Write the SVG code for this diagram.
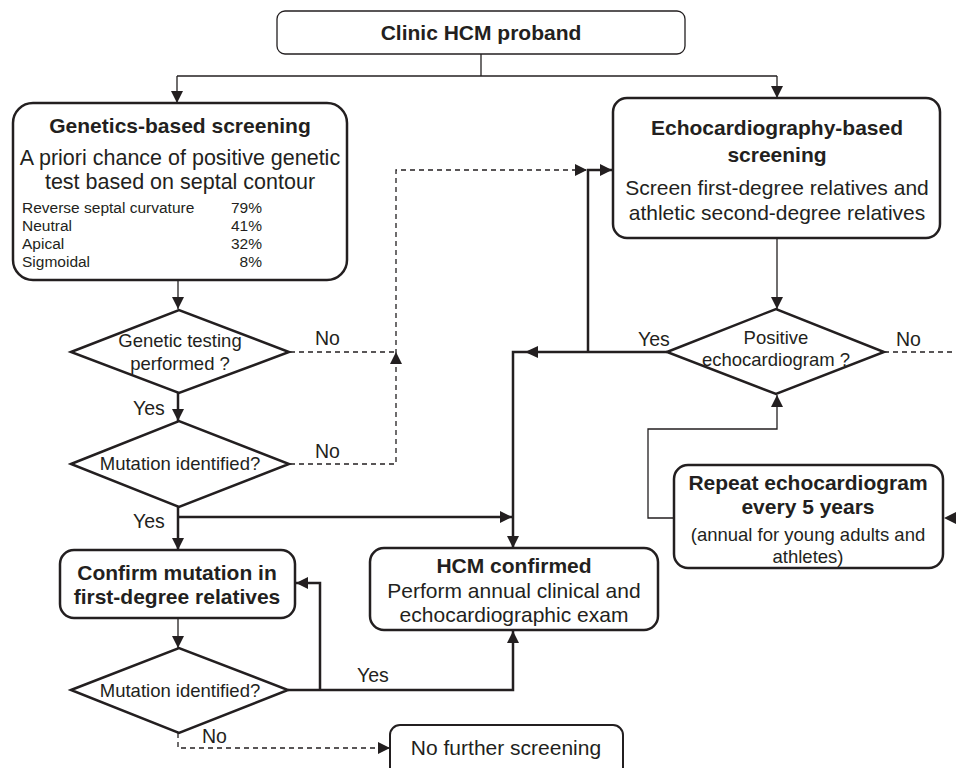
<svg xmlns="http://www.w3.org/2000/svg" width="956" height="768" viewBox="0 0 956 768">
  <style>
    .box { fill: #ffffff; stroke: #231f20; stroke-width: 2.5; }
    .thinbox { fill: #ffffff; stroke: #231f20; stroke-width: 1.3; }
    .dia { fill: #ffffff; stroke: #231f20; stroke-width: 2.5; stroke-linejoin: miter; }
    text { font-family: "Liberation Sans", Arial, Helvetica, sans-serif; fill: #231f20; }
    .c { text-anchor: middle; }
    .e { text-anchor: end; }
    .b { font-weight: bold; }
    .t21 { font-size: 21px; }
    .t18 { font-size: 18.5px; }
    .t15 { font-size: 15.5px; }
    .lbl { font-size: 19.5px; }
    .ln { fill: none; stroke: #231f20; stroke-width: 1.3; }
    .thk { fill: none; stroke: #231f20; stroke-width: 2.5; }
    .dsh { fill: none; stroke: #231f20; stroke-width: 1.3; stroke-dasharray: 5 4; }
    .head { fill: #231f20; stroke: none; }
  </style>
  <defs>
    <marker id="arr" viewBox="0 0 12 12" refX="12" refY="6" markerWidth="12" markerHeight="12" markerUnits="userSpaceOnUse" orient="auto">
      <path d="M0,0 L12,6 L0,12 z" fill="#231f20" stroke="none"/>
    </marker>
  </defs>

  <rect width="956" height="768" fill="#ffffff"/>

  <!-- connectors -->
  <g id="connectors">
    <!-- proband split -->
    <path class="ln" d="M481,54 V76"/>
    <path class="ln" d="M177,76 H777"/>
    <path class="ln" d="M177,76 V103" marker-end="url(#arr)"/>
    <path class="ln" d="M777,76 V98" marker-end="url(#arr)"/>
    <!-- genetics branch -->
    <path class="ln" d="M178,280 V309" marker-end="url(#arr)"/>
    <path class="thk" d="M178,393 V421" marker-end="url(#arr)"/>
    <path class="thk" d="M178,507 V550" marker-end="url(#arr)"/>
    <path class="thk" d="M178,517 H512" marker-end="url(#arr)"/>
    <path class="ln" d="M178,618 V648" marker-end="url(#arr)"/>
    <!-- "No" paths to echo screening -->
    <path class="dsh" d="M290,352 H396"/>
    <path class="dsh" d="M290,464 H396 V170 H587" marker-end="url(#arr)"/>
    <polygon class="head" points="396,352 390,364 402,364"/>
    <!-- echo screening branch -->
    <path class="thk" d="M588,352 V170 H612" marker-end="url(#arr)"/>
    <path class="ln" d="M777,238 V309" marker-end="url(#arr)"/>
    <path class="thk" d="M667,352 H513 V548" marker-end="url(#arr)"/>
    <polygon class="head" points="525,352 538,346 538,358"/>
    <path class="dsh" d="M884,352 H975 V518 H944" marker-end="url(#arr)"/>
    <path class="ln" d="M674,518 H648 V429 H777 V395" marker-end="url(#arr)"/>
    <!-- confirmation in relatives -->
    <path class="thk" d="M288,690 H513 V631" marker-end="url(#arr)"/>
    <path class="thk" d="M320,690 V583 H296" marker-end="url(#arr)"/>
    <path class="dsh" d="M178,733 V748 H390" marker-end="url(#arr)"/>

    <text class="lbl" x="315" y="345">No</text>
    <text class="lbl" x="315" y="458">No</text>
    <text class="lbl" x="133" y="415">Yes</text>
    <text class="lbl" x="133" y="528">Yes</text>
    <text class="lbl" x="638" y="346">Yes</text>
    <text class="lbl" x="896" y="346">No</text>
    <text class="lbl" x="357" y="682">Yes</text>
    <text class="lbl" x="202" y="743">No</text>
  </g>

  <g id="proband">
    <rect class="thinbox" x="277" y="11" width="408" height="43" rx="8"/>
    <text class="t21 b c" x="481" y="40">Clinic HCM proband</text>
  </g>

  <g id="genetics-screening">
    <rect class="box" x="13" y="103" width="334" height="177" rx="20"/>
    <text class="t21 b c" x="180" y="133">Genetics-based screening</text>
    <text class="c" style="font-size:21.5px" x="180" y="165">A priori chance of positive genetic</text>
    <text class="c" style="font-size:21.5px" x="180" y="189">test based on septal contour</text>
    <text class="t15" x="22" y="213">Reverse septal curvature</text>
    <text class="t15 e" x="262" y="213">79%</text>
    <text class="t15" x="22" y="231">Neutral</text>
    <text class="t15 e" x="262" y="231">41%</text>
    <text class="t15" x="22" y="249">Apical</text>
    <text class="t15 e" x="262" y="249">32%</text>
    <text class="t15" x="22" y="267">Sigmoidal</text>
    <text class="t15 e" x="262" y="267">8%</text>
  </g>

  <g id="genetic-testing">
    <polygon class="dia" points="71,352 179,310 289,352 179,393"/>
    <text class="t18 c" x="180" y="347">Genetic testing</text>
    <text class="t18 c" x="180" y="370">performed ?</text>
  </g>

  <g id="mutation-identified">
    <polygon class="dia" points="71,464 179,421 289,464 179,507"/>
    <text class="t18 c" x="180" y="470">Mutation identified?</text>
  </g>

  <g id="confirm-mutation">
    <rect class="box" x="60" y="550" width="235" height="68" rx="14"/>
    <text class="t21 b c" x="177" y="580">Confirm mutation in</text>
    <text class="t21 b c" x="177" y="604">first-degree relatives</text>
  </g>

  <g id="relatives-mutation">
    <polygon class="dia" points="71,690 179,648 288,690 179,733"/>
    <text class="t18 c" x="180" y="697">Mutation identified?</text>
  </g>

  <g id="no-further">
    <rect class="box" x="390" y="725" width="233" height="54" rx="10" style="stroke-width:2"/>
    <text class="t21 c" x="506" y="755">No further screening</text>
  </g>

  <g id="hcm-confirmed">
    <rect class="box" x="370" y="548" width="288" height="82" rx="14"/>
    <text class="t21 b c" x="514" y="573">HCM confirmed</text>
    <text class="t21 c" x="514" y="598">Perform annual clinical and</text>
    <text class="t21 c" x="514" y="622">echocardiographic exam</text>
  </g>

  <g id="echo-screening">
    <rect class="box" x="613" y="98" width="327" height="140" rx="14"/>
    <text class="t21 b c" x="777" y="135">Echocardiography-based</text>
    <text class="t21 b c" x="777" y="162">screening</text>
    <text class="t21 c" x="777" y="195">Screen first-degree relatives and</text>
    <text class="t21 c" x="777" y="220">athletic second-degree relatives</text>
  </g>

  <g id="positive-echo">
    <polygon class="dia" points="667,352 776,309 884,352 776,394"/>
    <text class="t18 c" x="776" y="344">Positive</text>
    <text class="t18 c" x="776" y="366">echocardiogram ?</text>
  </g>

  <g id="repeat-echo">
    <rect class="box" x="674" y="465" width="269" height="103" rx="14"/>
    <text class="t21 b c" x="808" y="490">Repeat echocardiogram</text>
    <text class="t21 b c" x="808" y="514">every 5 years</text>
    <text class="t18 c" x="808" y="541">(annual for young adults and</text>
    <text class="t18 c" x="808" y="563">athletes)</text>
  </g>
</svg>
